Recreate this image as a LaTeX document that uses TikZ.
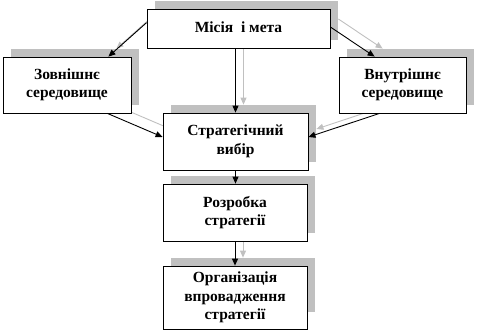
\documentclass[tikz,border=0pt]{standalone}
\usepackage{fontspec}
\setmainfont{Liberation Serif}[BoldFont={Liberation Serif Bold}]
\usetikzlibrary{arrows.meta,shadows,backgrounds}
\definecolor{shgray}{HTML}{C0C0C0}
\tikzset{
  plainbox/.style={draw=black, line width=0.8pt, fill=white, align=center,
    inner sep=0pt, font=\bfseries\fontsize{15.5}{18.5}\selectfont},
  box/.style={plainbox,
    general shadow={shadow xshift=8pt, shadow yshift=8pt, fill=shgray}},
  blackarrow/.style={draw=black, line width=0.9pt, -{Triangle[length=7pt,width=6pt]}},
  grayarrow/.style={draw=shgray, line width=0.9pt, -{Triangle[length=7pt,width=6pt]},
    transform canvas={shift={(8pt,8pt)}}}
}
\begin{document}
\begin{tikzpicture}[x=1pt,y=-1pt]
\useasboundingbox (0,0) rectangle (477,333);
\node[box, minimum width=183pt, minimum height=39pt] (mission) at (238.5,28.5) {\raisebox{2pt}{Місія\ \ і мета}};
\node[box, minimum width=128pt, minimum height=56pt] (ext) at (67,85) {Зовнішнє\\середовище};
\node[box, minimum width=127pt, minimum height=56pt] (int) at (402.5,85) {Внутрішнє\\середовище};
\node[box, minimum width=145pt, minimum height=57pt] (strat) at (235.5,141.5) {Стратегічний\\вибір};
\node[box, minimum width=144pt, minimum height=57pt] (dev) at (235,212.5) {Розробка\\стратегії};
\node[plainbox, minimum width=144pt, minimum height=63pt] (org) at (235,297.5) {Організація\\впровадження\\стратегії};

\begin{pgfonlayer}{background}
\fill[shgray] ([shift={(8pt,8pt)}]org.north west) rectangle ([shift={(8pt,17pt)}]org.south east);
\draw[grayarrow] ([yshift=-14pt]mission.north west) -- ([xshift=-23pt]ext.north east);
\draw[grayarrow] (strat.north |- mission.south) -- (strat.north);
\draw[grayarrow] ([yshift=1.5pt]mission.east) -- ([xshift=36pt]int.north west);
\draw[grayarrow] ([xshift=-24pt]ext.south east) -- ([yshift=4.5pt]strat.west);
\draw[grayarrow] ([xshift=41pt]int.south west) -- ([yshift=4.5pt]strat.east);
\draw[grayarrow] (dev.south) -- (org.north);
\end{pgfonlayer}

\draw[blackarrow] ([yshift=-14pt]mission.north west) -- ([xshift=-23pt]ext.north east);
\draw[blackarrow] (strat.north |- mission.south) -- (strat.north);
\draw[blackarrow] ([yshift=1.5pt]mission.east) -- ([xshift=36pt]int.north west);
\draw[blackarrow] ([xshift=-24pt]ext.south east) -- ([yshift=4.5pt]strat.west);
\draw[blackarrow] ([xshift=41pt]int.south west) -- ([yshift=4.5pt]strat.east);
\draw[blackarrow] (strat.south) -- (strat.south |- dev.north);
\draw[blackarrow] (dev.south) -- (org.north);
\end{tikzpicture}
\end{document}
